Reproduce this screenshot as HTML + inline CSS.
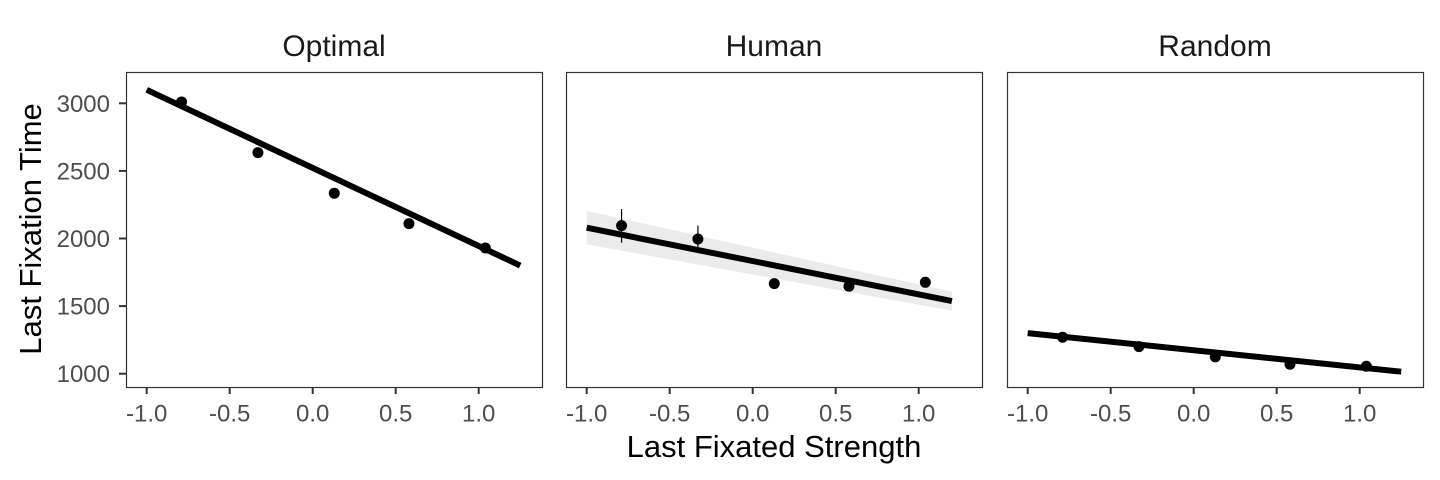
<!DOCTYPE html>
<html><head><meta charset="utf-8"><style>
body{margin:0;background:#fff;}
svg{display:block;font-family:"Liberation Sans",Arial,sans-serif;}
</style></head><body>
<svg id="chart" width="1440" height="480" viewBox="0 0 1440 480"></svg>
<script>
const panelNames = ["Optimal","Human","Random"];
const xValues = [-0.79,-0.33,0.13,0.58,1.04];
const optimalY = [3010,2635,2335,2110,1930];
const humanY = [2095,1996,1666,1647,1676];
const randomY = [1270,1200,1125,1070,1055];
const humanErrLow = [1969,1937,null,null,null];
const humanErrHigh = [2218,2095,null,null,null];
const fitStart = [[-1,3100],[-1,2080],[-1,1300]];
const fitEnd = [[1.25,1800],[1.2,1537],[1.25,1015]];
const ribbonLow = [[-1,1957],[1.2,1466]];
const ribbonHigh = [[-1,2203],[1.2,1607]];
const xTicks = [-1.0,-0.5,0.0,0.5,1.0];
const xTickLabels = ["-1.0","-0.5","0.0","0.5","1.0"];
const yTicks = [1000,1500,2000,2500,3000];
const yTickLabels = ["1000","1500","2000","2500","3000"];

const svg = document.getElementById('chart');
const NS = "http://www.w3.org/2000/svg";
function mk(tag, attrs, parent){const e=document.createElementNS(NS,tag);for(const k in attrs)e.setAttribute(k,attrs[k]);(parent||svg).appendChild(e);return e;}
const panelLeft=[126,566,1007], pW=416, pTop=72, pBot=387;
function xs(p,v){return panelLeft[p]+20.7+(v+1)*166;}
function ys(v){return 103.3+(3000-v)*0.1352;}
const series=[optimalY,humanY,randomY];

panelNames.forEach((nm,p)=>{
  const g=mk('g',{});
  
  
  const t=mk('text',{x:panelLeft[p]+pW/2,y:56,'text-anchor':'middle','font-size':30,fill:'#1a1a1a'},g);
  t.textContent=nm;
  
  
  if(p===1){
    const d=`M${xs(p,ribbonHigh[0][0])},${ys(ribbonHigh[0][1])} L${xs(p,ribbonHigh[1][0])},${ys(ribbonHigh[1][1])} L${xs(p,ribbonLow[1][0])},${ys(ribbonLow[1][1])} L${xs(p,ribbonLow[0][0])},${ys(ribbonLow[0][1])} Z`;
    const r=mk('path',{d:d,fill:'#ebebeb'},g);
    
    
  }
  const ln=mk('line',{x1:xs(p,fitStart[p][0]),y1:ys(fitStart[p][1]),x2:xs(p,fitEnd[p][0]),y2:ys(fitEnd[p][1]),stroke:'#000','stroke-width':6},g);
  
  
  xValues.forEach((xv,i)=>{
    if(p===1 && humanErrLow[i]!==null){
      const eb=mk('line',{x1:xs(p,xv),x2:xs(p,xv),y1:ys(humanErrHigh[i]),y2:ys(humanErrLow[i]),stroke:'#000','stroke-width':1.2},g);
      
      
    }
    const c=mk('circle',{cx:xs(p,xv),cy:ys(series[p][i]),r:5.5,fill:'#000'},g);
    
    
  });
  const b=mk('rect',{x:panelLeft[p]+0.5,y:pTop+0.5,width:pW,height:pBot-pTop,fill:'none',stroke:'#333','stroke-width':1.2},g);
  
  
  xTicks.forEach((tv,i)=>{
    const x=xs(p,tv);
    const tk=mk('line',{x1:x,x2:x,y1:pBot,y2:pBot+7,stroke:'#333','stroke-width':2},g);
    
    
    const tl=mk('text',{x:x,y:421.5,'text-anchor':'middle','font-size':24,fill:'#4d4d4d'},g);
    tl.textContent=xTickLabels[i];
    
    
  });
});
yTicks.forEach((tv,i)=>{
  const y=ys(tv);
  const tk=mk('line',{x1:119,x2:126,y1:y,y2:y,stroke:'#333','stroke-width':2});
  
  
  const tl=mk('text',{x:110,y:y+8.5,'text-anchor':'end','font-size':24,fill:'#4d4d4d'});
  tl.textContent=yTickLabels[i];
  
  
});
const yt=mk('text',{x:0,y:0,'text-anchor':'middle','font-size':31,fill:'#000',transform:'translate(41,229) rotate(-90)'});
yt.textContent='Last Fixation Time';


const xt=mk('text',{x:774,y:457,'text-anchor':'middle','font-size':31,fill:'#000'});
xt.textContent='Last Fixated Strength';


</script>
</body></html>
